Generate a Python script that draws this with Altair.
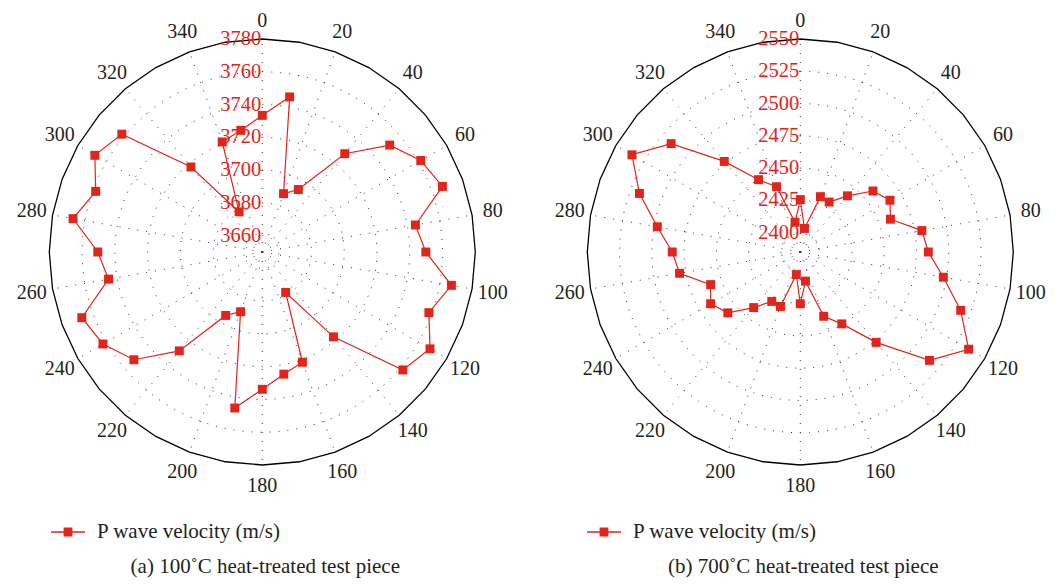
import altair as alt
import pandas as pd

# ---------------- data ----------------
angles = list(range(0, 360, 10))
vel_100 = [3733.4, 3746.1, 3687.9, 3694.0, 3728.3, 3751.5, 3761.7, 3767.0, 3744.9, 3749.8,
           3767.2, 3758.2, 3768.2, 3762.0, 3717.6, 3678.5, 3721.6, 3725.7, 3733.8, 3746.7,
           3688.8, 3694.7, 3728.8, 3752.3, 3762.3, 3767.2, 3745.3, 3750.4, 3767.3, 3758.2,
           3768.0, 3761.9, 3717.7, 3678.3, 3721.5, 3725.4]
vel_700 = [2425.6, 2403.5, 2430.6, 2429.7, 2441.8, 2458.5, 2465.2, 2459.3, 2480.6, 2484.2,
           2497.5, 2517.2, 2535.6, 2515.6, 2476.4, 2449.3, 2438.0, 2407.9, 2425.1, 2402.8,
           2429.9, 2429.2, 2441.2, 2458.3, 2465.2, 2458.9, 2480.0, 2484.2, 2497.5, 2517.6,
           2535.6, 2515.6, 2476.6, 2449.7, 2438.8, 2408.4]
ticks_100 = [3660, 3680, 3700, 3720, 3740, 3760, 3780]
ticks_700 = [2400, 2425, 2450, 2475, 2500, 2525, 2550]
range_100 = [3650, 3780]
range_700 = [2385, 2550]
angle_ticks = list(range(0, 360, 20))
series_label = "P wave velocity (m/s)"
captions = ["(a) 100˚C heat-treated test piece", "(b) 700˚C heat-treated test piece"]

# ---------------- layout / style ----------------
W, H = 1046, 570
R = 213.0
CX = [254.3, 792.3]
CY = 244.0
OX = [0.0, (CX[1] - CX[0]) / R]
X_DOM = [-CX[0] / R, (W - CX[0]) / R]
Y_DOM = [-(H - CY) / R, CY / R]
LABEL_R = 234.0 / R
LABEL_R_TOP = 231.5 / R
CAPTION_R = (565 - CY) / R
LEGEND_X = [42, 578]
LEGEND_Y = 506
RED = "#E1251B"
TEXT = "#231F20"
GRID = "#333333"
FONT = "Liberation Serif"
LEGEND_SYMBOL = "M-1,0L1,0M-0.22,-0.22L0.22,-0.22L0.22,0.22L-0.22,0.22Z"

X = alt.X("x:Q", scale=alt.Scale(domain=X_DOM, nice=False, zero=False), axis=None)
Y = alt.Y("y:Q", scale=alt.Scale(domain=Y_DOM, nice=False, zero=False), axis=None)


def polar(r_expr, ox):
    return dict(
        x=f"{ox} + ({r_expr}) * sin(datum.angle * PI / 180)",
        y=f"({r_expr}) * cos(datum.angle * PI / 180)",
    )


def panel(i, vel, ticks, vrange):
    ox = OX[i]
    vmin, vmax = vrange
    rv = f"(datum.v - {vmin}) / {vmax - vmin}"

    ring_df = pd.DataFrame([{"v": t, "angle": a} for t in ticks[:-1] for a in range(0, 361, 3)])
    rings = alt.Chart(ring_df).transform_calculate(**polar(rv, ox)).mark_line(
        strokeDash=[1, 8], color=GRID, strokeWidth=1
    ).encode(x=X, y=Y, detail="v:N", order="angle:Q")

    spoke_df = pd.DataFrame([{"angle": a, "r": r} for a in angle_ticks for r in (0, 1)])
    spokes = alt.Chart(spoke_df).transform_calculate(**polar("datum.r", ox)).mark_line(
        strokeDash=[1, 8], color=GRID, strokeWidth=1
    ).encode(x=X, y=Y, detail="angle:N", order="r:Q")

    bound_df = pd.DataFrame({"angle": list(range(0, 361, 10))})
    bound = alt.Chart(bound_df).transform_calculate(**polar("1", ox)).mark_line(
        color="black", strokeWidth=1.3
    ).encode(x=X, y=Y, order="angle:Q")

    ang_df = pd.DataFrame({"angle": angle_ticks, "label": [str(a) for a in angle_ticks]})
    ang_r = f"datum.angle == 0 ? {LABEL_R_TOP} : {LABEL_R}"
    ang_labels = alt.Chart(ang_df).transform_calculate(**polar(ang_r, ox)).mark_text(
        font=FONT, fontSize=20, color=TEXT, align="center", baseline="middle"
    ).encode(x=X, y=Y, text="label:N")

    rad_df = pd.DataFrame({"v": ticks, "angle": [0] * len(ticks), "label": [str(t) for t in ticks]})
    rad_labels = alt.Chart(rad_df).transform_calculate(**polar(rv, ox)).mark_text(
        font=FONT, fontSize=20.5, color=RED, align="right", baseline="middle", dx=-1
    ).encode(x=X, y=Y, text="label:N")

    cap_df = pd.DataFrame({"angle": [180], "label": [captions[i]]})
    caption = alt.Chart(cap_df).transform_calculate(**polar(str(CAPTION_R), ox)).mark_text(
        font=FONT, fontSize=21, color=TEXT, align="center", baseline="alphabetic", dx=3
    ).encode(x=X, y=Y, text="label:N")

    df = pd.DataFrame({
        "angle": angles + [360],
        "v": vel + [vel[0]],
        "idx": list(range(len(angles) + 1)),
        "series": series_label,
    })
    line = alt.Chart(df).transform_calculate(**polar(rv, ox)).mark_line(
        color=RED, strokeWidth=1.2
    ).encode(x=X, y=Y, order="idx:Q")

    points = alt.Chart(df.iloc[:-1]).transform_calculate(**polar(rv, ox)).mark_point(
        shape="square", filled=True, size=80, opacity=1
    ).encode(
        x=X, y=Y,
        color=alt.Color(
            "series:N",
            scale=alt.Scale(domain=[series_label], range=[RED]),
            legend=alt.Legend(
                orient="none", legendX=LEGEND_X[i], legendY=LEGEND_Y, title=None,
                symbolType=LEGEND_SYMBOL, symbolSize=1156,
                symbolStrokeColor=RED, symbolStrokeWidth=1.3, symbolFillColor=RED,
                labelFont=FONT, labelFontSize=21, labelColor=TEXT, labelOffset=11,
                padding=0, labelLimit=0,
            ),
        ),
    )

    return alt.layer(rings, spokes, bound, ang_labels, rad_labels, caption, line, points)


chart = alt.layer(
    panel(0, vel_100, ticks_100, range_100),
    panel(1, vel_700, ticks_700, range_700),
).resolve_scale(color="independent").resolve_legend(color="independent").properties(
    width=W, height=H, padding=0,
    autosize=alt.AutoSizeParams(type="none"),
).configure_view(stroke=None)

chart.save("out.html", embed_options={"renderer": "svg", "actions": False})
